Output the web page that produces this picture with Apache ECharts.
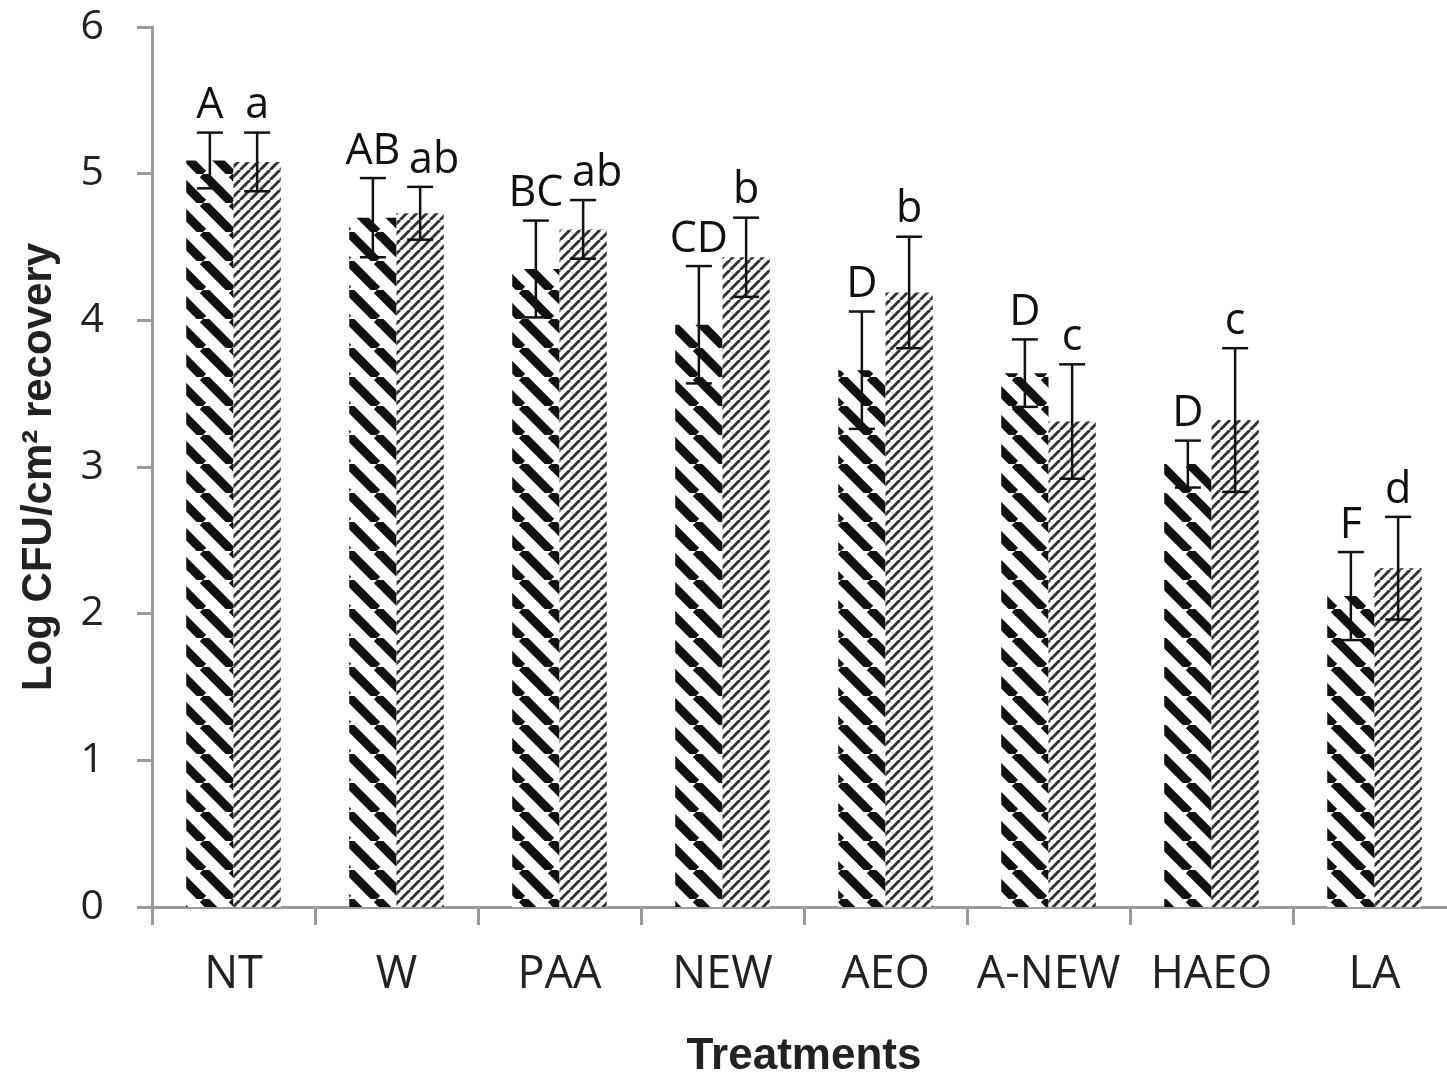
<!DOCTYPE html>
<html>
<head>
<meta charset="utf-8">
<script src="https://cdn.jsdelivr.net/npm/echarts@6/dist/echarts.min.js"></script>
<style>
  html, body { margin: 0; padding: 0; background: #fff; }
  #chart { width: 1447px; height: 1074px; }
</style>
</head>
<body>
<div id="chart"></div>
<script>
// ---- data ----
const categories = ['NT', 'W', 'PAA', 'NEW', 'AEO', 'A-NEW', 'HAEO', 'LA'];
const darkMeans  = [5.09, 4.70, 4.35, 3.97, 3.66, 3.64, 3.02, 2.12];
const darkSD     = [0.19, 0.27, 0.33, 0.40, 0.40, 0.23, 0.16, 0.30];
const darkLetters = ['A', 'AB', 'BC', 'CD', 'D', 'D', 'D', 'F'];
const lightMeans = [5.08, 4.73, 4.62, 4.43, 4.19, 3.31, 3.32, 2.31];
const lightSD    = [0.20, 0.18, 0.20, 0.27, 0.38, 0.39, 0.49, 0.35];
const lightLetters = ['a', 'ab', 'ab', 'b', 'b', 'c', 'c', 'd'];
const yTicks = [0, 1, 2, 3, 4, 5, 6];

// ---- hatch patterns ----
function makePattern(w, h, lw, dir, color) {
  const c = document.createElement('canvas');
  c.width = w; c.height = h;
  const ctx = c.getContext('2d');
  ctx.fillStyle = '#fff';
  ctx.fillRect(0, 0, w, h);
  ctx.strokeStyle = color;
  ctx.lineWidth = lw;
  ctx.lineCap = 'butt';
  for (let k = -1; k <= 1; k++) {
    ctx.beginPath();
    if (dir === '\\') {
      ctx.moveTo(k * w, 0); ctx.lineTo(k * w + w, h);
    } else {
      ctx.moveTo(k * w, h); ctx.lineTo(k * w + w, 0);
    }
    ctx.stroke();
  }
  return c;
}
const darkPattern = makePattern(29, 29, 9, '\\', '#111');
const lightPattern = makePattern(10, 10, 3, '/', '#333');

const GAP = 0.42;
const axisGrey = '#9a9a9a';
const FONT = '"Open Sans", "Liberation Sans", sans-serif';

function errRender(means, sds, letters, side) {
  return function (params, api) {
    const i = params.dataIndex;
    const x = api.value(0);
    const m = api.value(1);
    const sd = api.value(2);
    const band = api.size([1, 0])[0];
    const bw = band * (1 - GAP) / 2;
    const cx = api.coord([x, m])[0] + side * bw / 2;
    const yt = api.coord([x, m + sd])[1];
    const yb = api.coord([x, m - sd])[1];
    const cap = 13;
    const st = { stroke: '#111', lineWidth: 2.5 };
    const dx = (side > 0 && letters[i].length > 1) ? 14 : 0;
    return {
      type: 'group',
      children: [
        { type: 'line', shape: { x1: cx, y1: yt, x2: cx, y2: yb }, style: st },
        { type: 'line', shape: { x1: cx - cap, y1: yt, x2: cx + cap, y2: yt }, style: st },
        { type: 'line', shape: { x1: cx - cap, y1: yb, x2: cx + cap, y2: yb }, style: st },
        { type: 'text', x: cx + dx, y: yt - 5,
          style: { text: letters[i], fill: '#111', font: '43px ' + FONT,
                   align: 'center', verticalAlign: 'bottom' } }
      ]
    };
  };
}

const chart = echarts.init(document.getElementById('chart'), null, { renderer: 'canvas' });
chart.setOption({
  animation: false,
  backgroundColor: '#fff',
  grid: { left: 152, top: 27, width: 1304, height: 880, containLabel: false, outerBoundsMode: 'none' },
  xAxis: {
    type: 'category',
    data: categories,
    name: 'Treatments',
    nameLocation: 'middle',
    nameGap: 128,
    nameTextStyle: { fontFamily: '"Liberation Sans", Arial, sans-serif', fontWeight: 'bold', fontSize: 44, color: '#222' },
    axisLine: { lineStyle: { color: axisGrey, width: 3 } },
    axisTick: { show: true, length: 18, interval: 0, lineStyle: { color: axisGrey, width: 3 }, alignWithLabel: false },
    axisLabel: { fontFamily: FONT, fontSize: 45, color: '#222', margin: 46, interval: 0 },
    splitLine: { show: false }
  },
  yAxis: {
    type: 'value',
    min: 0, max: 6, interval: 1,
    name: 'Log CFU/cm² recovery',
    nameLocation: 'middle',
    nameGap: 92,
    nameRotate: 90,
    nameTextStyle: { fontFamily: '"Liberation Sans", Arial, sans-serif', fontWeight: 'bold', fontSize: 42, color: '#222' },
    axisLine: { show: true, lineStyle: { color: axisGrey, width: 3 } },
    axisTick: { show: true, length: 15, lineStyle: { color: axisGrey, width: 3 } },
    axisLabel: { fontFamily: FONT, fontSize: 41, color: '#222', margin: 48,
                 formatter: v => yTicks.includes(v) ? String(v) : '' },
    splitLine: { show: false }
  },
  series: [
    {
      type: 'bar', name: 'dark', data: darkMeans,
      barGap: '0%', barCategoryGap: (GAP * 100) + '%',
      itemStyle: { color: { image: darkPattern, repeat: 'repeat' } }
    },
    {
      type: 'bar', name: 'light', data: lightMeans,
      barGap: '0%', barCategoryGap: (GAP * 100) + '%',
      itemStyle: { color: { image: lightPattern, repeat: 'repeat' } }
    },
    {
      type: 'custom', name: 'darkErr',
      renderItem: errRender(darkMeans, darkSD, darkLetters, -1),
      data: darkMeans.map((m, i) => [i, m, darkSD[i]]),
      z: 10
    },
    {
      type: 'custom', name: 'lightErr',
      renderItem: errRender(lightMeans, lightSD, lightLetters, 1),
      data: lightMeans.map((m, i) => [i, m, lightSD[i]]),
      z: 10
    }
  ]
});
</script>
</body>
</html>
